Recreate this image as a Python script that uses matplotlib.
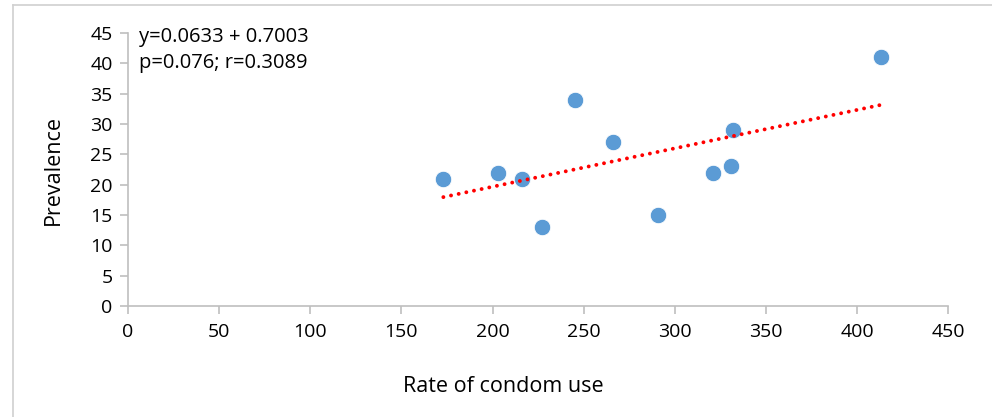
import numpy as np
import matplotlib.pyplot as plt
from matplotlib.lines import Line2D

plt.rcParams['font.family'] = ['Open Sans', 'DejaVu Sans']

# données
condom_rate = [173, 203, 216, 227, 245, 266, 291, 321, 331, 332, 413]
prevalence = [21, 22, 21, 13, 34, 27, 15, 22, 23, 29, 41]
slope, intercept = 0.0633, 7.003
eq_text = "y=0.0633 + 0.7003\np=0.076; r=0.3089"

fig = plt.figure(figsize=(9.92, 4.17), dpi=100)
ax = fig.add_axes([0.129, 0.266, 0.827, 0.655])

# droite de tendance
xs = np.array([min(condom_rate), max(condom_rate)])
ax.plot(xs, slope * xs + intercept, color='red', linestyle=(0, (0.01, 2.0)),
        linewidth=2.8, dash_capstyle='round', zorder=3)

ax.scatter(condom_rate, prevalence, s=140, color='#5b9bd5',
           edgecolors='white', linewidths=0.6, zorder=2)

ax.set_xlim(0, 450)
ax.set_ylim(0, 45)
ax.set_xticks(range(0, 451, 50))
ax.set_yticks(range(0, 46, 5))

for side in ['top', 'right']:
    ax.spines[side].set_visible(False)
for side in ['left', 'bottom']:
    ax.spines[side].set_color('#bfbfbf')
    ax.spines[side].set_linewidth(1.2)
ax.tick_params(axis='both', colors='#bfbfbf', labelcolor='black',
               labelsize=14, length=6, width=1.2)
ax.tick_params(axis='x', pad=6)
ax.tick_params(axis='y', pad=5)

ax.set_xlabel("Rate of condom use", fontsize=15.5)
ax.xaxis.set_label_coords(0.457, -0.255)
ax.set_ylabel("Prevalence", fontsize=15.5)
ax.yaxis.set_label_coords(-0.078, 0.5)

ax.text(0.014, 1.02, eq_text, transform=ax.transAxes, fontsize=14.5,
        va='top', ha='left', linespacing=1.35)

# bordure grise du cadre
fig.add_artist(Line2D([13 / 992, 13 / 992], [0, 1 - 5 / 417],
                      transform=fig.transFigure, color='#d0d0d0', lw=1.2))
fig.add_artist(Line2D([13 / 992, 1], [1 - 5 / 417, 1 - 5 / 417],
                      transform=fig.transFigure, color='#d0d0d0', lw=1.2))

fig.savefig('out.png', dpi=100)
